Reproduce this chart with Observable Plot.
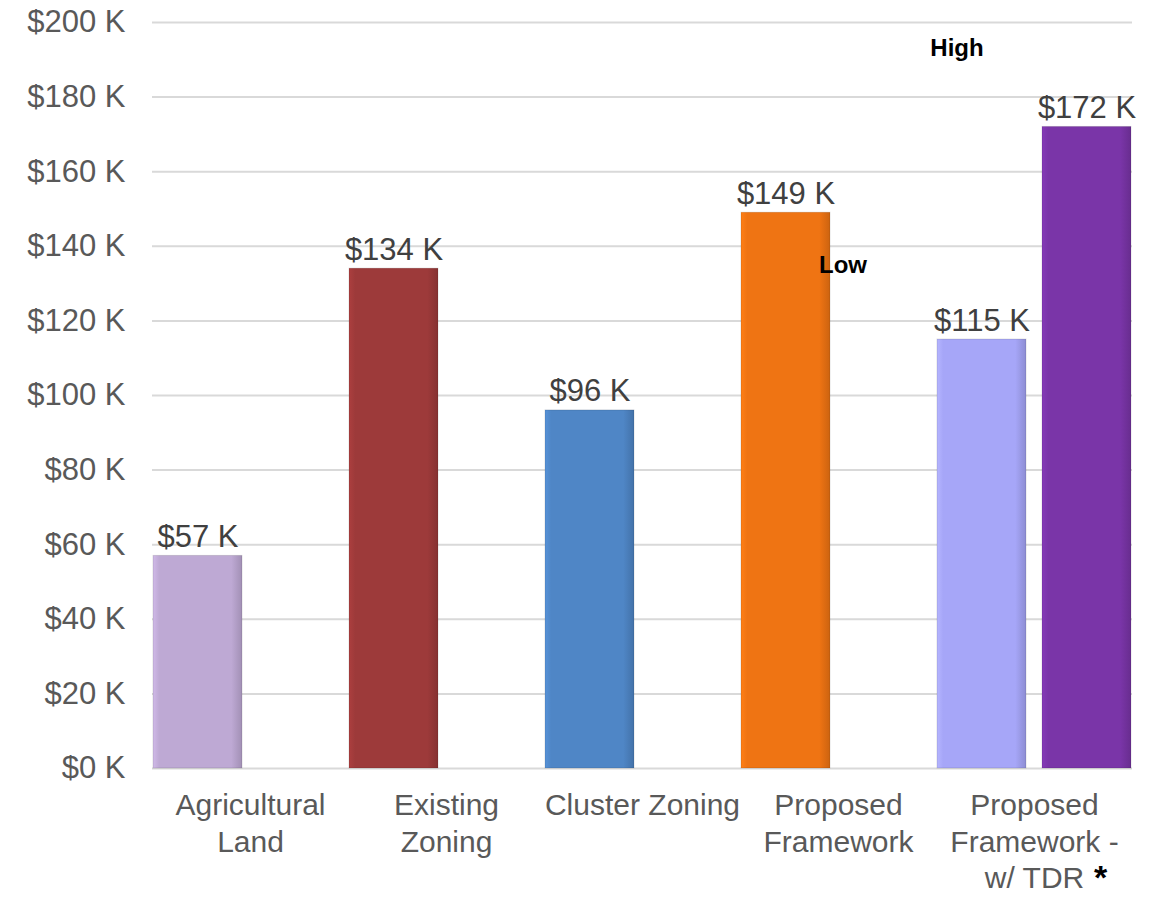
<!DOCTYPE html>
<html><head><meta charset="utf-8">
<script src="https://cdn.jsdelivr.net/npm/d3@7"></script>
<script src="https://cdn.jsdelivr.net/npm/@observablehq/plot@0.6"></script>
<style>body{margin:0;background:#fff;}</style>
</head><body><div id="chart"></div>
<script>
const categories = ["Agricultural Land", "Existing Zoning", "Cluster Zoning", "Proposed Framework", "Proposed Framework - w/ TDR"];
const categoryLabels = ["Agricultural\nLand", "Existing\nZoning", "Cluster Zoning", "Proposed\nFramework", "Proposed\nFramework -\nw/ TDR"];
const seriesKeys = ["Low", "High"];
const lowValues = [57, 134, 96, 149, 115];
const highValues = [null, null, null, null, 172];
const lowColors = ["#BEA9D4", "#9D3A3A", "#4F86C6", "#EF7413", "#A6A6F8"];
const highColors = [null, null, null, null, "#7A35A8"];
const yTicks = [0, 20, 40, 60, 80, 100, 120, 140, 160, 180, 200];
const annotationText = ["High", "Low"];
const annotationCategory = [categories[4], categories[3]];
const annotationSeries = ["Low", "High"];
const annotationValue = [193, 135];

const bars = [];
categories.forEach((c, i) => {
  if (lowValues[i] != null) bars.push({cat: c, series: "Low", value: lowValues[i], color: lowColors[i]});
  if (highValues[i] != null) bars.push({cat: c, series: "High", value: highValues[i], color: highColors[i]});
});
bars.forEach((b, i) => { b.grad = `url(#bargrad${i})`; });
const notes = annotationText.map((t, i) => ({text: t, cat: annotationCategory[i], series: annotationSeries[i], value: annotationValue[i]}));

const chart = Plot.plot({
  width: 1163,
  height: 897,
  marginLeft: 152,
  marginRight: 31,
  marginTop: 22,
  marginBottom: 129,
  style: {fontFamily: "'Liberation Sans', Arial, sans-serif", color: "#595959", background: "#fff"},
  fx: {domain: categories, paddingInner: 0, paddingOuter: 0},
  x: {domain: seriesKeys, paddingInner: 0.15, paddingOuter: 0, axis: null},
  y: {domain: [0, 200], axis: null},
  color: {type: "identity"},
  marks: [
    Plot.gridY(yTicks, {stroke: "#D9D9D9", strokeOpacity: 1, strokeWidth: 2}),
    Plot.axisY(yTicks, {tickFormat: d => `$${d} K`, tickSize: 0, tickPadding: 27, fontSize: 31, label: null}),
    Plot.axisFx({anchor: "bottom", tickFormat: d => categoryLabels[categories.indexOf(d)], tickSize: 0, tickPadding: 20, fontSize: 30, lineHeight: 1.23, label: null}),
    Plot.barY(bars, {fx: "cat", x: "series", y: "value", fill: "grad", stroke: "rgba(0,0,0,0.12)", strokeWidth: 1}),
    Plot.text(bars, {fx: "cat", x: "series", y: "value", text: d => `$${d.value} K`, lineAnchor: "bottom", dy: -9, fontSize: 31, fill: "#404040"}),
    Plot.text(notes.slice(0, 1), {fx: "cat", x: "series", y: "value", text: "text", dx: -25, fontSize: 24, fontWeight: "bold", fill: "#000"}),
    Plot.text(notes.slice(1), {fx: "cat", x: "series", y: "value", text: "text", dx: -48, fontSize: 24, fontWeight: "bold", fill: "#000"}),
    Plot.text([{cat: categories[4]}], {fx: "cat", frameAnchor: "bottom", text: () => "*", dx: 66, dy: 120, fontSize: 34, fontWeight: "bold", fill: "#000"})
  ]
});

// gradient definitions for a subtle bevel look
const ns = "http://www.w3.org/2000/svg";
const defs = document.createElementNS(ns, "defs");
bars.forEach((b, i) => {
  const g = document.createElementNS(ns, "linearGradient");
  g.setAttribute("id", `bargrad${i}`);
  g.setAttribute("x1", "0"); g.setAttribute("x2", "1"); g.setAttribute("y1", "0"); g.setAttribute("y2", "0");
  const base = d3.color(b.color);
  const stops = [[0, base.brighter(0.25)], [0.07, base], [0.88, base], [1, base.darker(0.45)]];
  stops.forEach(([o, c]) => {
    const s = document.createElementNS(ns, "stop");
    s.setAttribute("offset", o);
    s.setAttribute("stop-color", c.formatHex());
    g.append(s);
  });
  defs.append(g);
});
chart.prepend(defs);
document.getElementById("chart").append(chart);
</script>
</body></html>
